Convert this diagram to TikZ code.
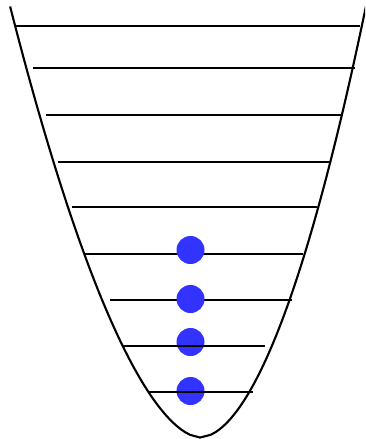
\documentclass[tikz,border=0pt]{standalone}
\definecolor{dotblue}{HTML}{3333FF}
\newlength{\pxu}
\setlength{\pxu}{0.02cm}
\tikzset{
  level/.style={line width=1.2pt, black},
  well/.style={line width=1.2pt, black, line join=round},
  ball/.style={circle, fill=dotblue, draw=none, minimum size=28\pxu, inner sep=0pt}
}
\begin{document}
\begin{tikzpicture}[x=0.02cm, y=-0.02cm]
\useasboundingbox (0,0) rectangle (365,439);
% levels under the balls
\draw[level] (15,26) -- (360,26);
\draw[level] (33,68) -- (355,68);
\draw[level] (46,115) -- (343,115);
\draw[level] (58,162) -- (330,162);
\draw[level] (72,207) -- (317,207);
\draw[level] (84,254) -- (303,254);
\draw[level] (110,300) -- (292,300);
% balls
\node[ball] (b1) at (190.5,250) {};
\node[ball] (b2) at (190.5,299) {};
\node[ball] (b3) at (190.5,342) {};
\node[ball] (b4) at (190.5,391) {};
% levels over the balls
\draw[level] (123,346) -- (265,346);
\draw[level] (148,392) -- (253,392);
% potential well
\begin{scope}
\clip (0,0) rectangle (365,439);
\draw[well] plot[domain=431:0.001, samples=160, variable=\t] ({200-5.63*(\t)^0.58}, {437.5-\t})
  -- plot[domain=0.001:431, samples=160, variable=\t] ({200+6.27*(\t)^0.54}, {437.5-\t});
\end{scope}
\end{tikzpicture}
\end{document}
